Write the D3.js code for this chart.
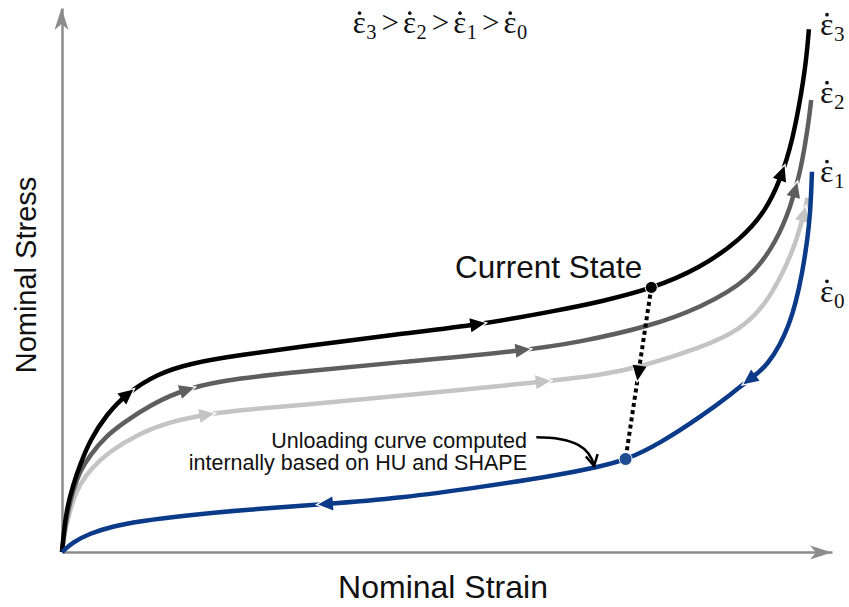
<!DOCTYPE html>
<html><head><meta charset="utf-8">
<script src="https://cdn.jsdelivr.net/npm/d3@7"></script>
<style>body{margin:0;background:#fff}svg{display:block}</style>
</head><body><svg id="c" width="849" height="607"></svg>
<script>
// ---- data (strain, stress) in arbitrary units 0..100 ----
const rate3 = [[0,0],[0.26,4.0],[0.65,8.1],[1.43,12.3],[2.34,16.0],[3.64,20.6],[5.84,25.4],[8.44,29.2],[12.3,32.7],[16.6,34.7],[23.1,36.2],[30.9,37.7],[43.9,40.1],[54.0,41.7],[64.7,44.5],[69.9,46.0],[76.6,48.4],[82.9,52.2],[88.1,57.4],[91.3,62.5],[93.3,68.4],[94.9,75.7],[96.1,84.9],[96.7,91.0],[97.0,96.1]];
const rate2 = [[0,0],[0.26,3.3],[0.65,6.8],[1.43,11.4],[2.34,14.9],[3.64,17.8],[5.58,21.1],[7.92,23.7],[11.4,27.0],[16.2,30.2],[23.1,32.0],[30.9,33.1],[43.9,34.9],[59.9,37.0],[67.3,38.6],[76.4,41.5],[82.9,44.9],[89.4,50.0],[92.9,57.4],[94.6,63.4],[95.8,69.3],[96.6,75.7],[97.0,79.5],[97.3,83.1]];
const rate1 = [[0,0],[0.26,2.8],[0.65,5.5],[1.43,9.6],[2.34,12.5],[3.64,15.1],[5.84,18.2],[10.1,21.9],[14.0,23.9],[18.3,25.2],[23.1,26.1],[30.9,27.0],[43.9,28.7],[62.5,31.3],[69.9,32.5],[75.1,34.0],[82.9,37.5],[88.1,40.8],[91.3,45.4],[93.5,50.9],[95.2,56.4],[96.2,61.4],[96.6,63.5],[96.8,65.1]];
const unload0 = [[97.4,69.9],[97.3,66.0],[97.1,60.5],[96.2,51.3],[94.6,41.4],[91.6,34.0],[89.1,31.6],[87.1,29.2],[82.9,24.8],[77.7,20.0],[73.3,16.9],[69.5,15.6],[64.7,14.2],[54.7,12.0],[43.9,9.9],[34.2,8.8],[23.1,7.7],[16.6,6.8],[10.1,5.7],[6.5,4.7],[3.6,3.4],[1.4,1.8],[0,0]];
const arrows3 = [[8.4,29.2],[54.0,41.7],[93.4,69.7]];
const arrows2 = [[16.2,30.1],[59.9,37.0],[95.5,66.5]];
const arrows1 = [[18.8,25.2],[62.5,31.3],[96.4,62.1]];
const arrows0 = [[89.1,32.0],[34.2,8.6]];
const currentState = [76.6,48.3];
const unloadPoint = [73.25,16.9];
const seriesLabels = ["3","2","1","0"];
const labelStress = [95.0,82.5,68.0,46.0];
const annotationLines = ["Unloading curve computed","internally based on HU and SHAPE"];

const colors = {r3:"#000000", r2:"#5e5e5e", r1:"#c4c4c4", r0:"#0b3a88", axis:"#8c8c8c"};

const svg = d3.select("#c");
const x = d3.scaleLinear().domain([0,100]).range([62,832]);
const y = d3.scaleLinear().domain([0,100]).range([552,8]);

// axes
const gx = svg.append("g").attr("transform",`translate(0,${y(0)})`)
  .call(d3.axisBottom(x).tickValues([]).tickSizeOuter(0));
const gy = svg.append("g").attr("transform",`translate(${x(0)},0)`)
  .call(d3.axisLeft(y).tickValues([]).tickSizeOuter(0));
[gx,gy].forEach(g=>g.select(".domain").attr("stroke",colors.axis).attr("stroke-width",2.5));

function axisHead(tx,ty,dx,dy){
  const px=-dy, py=dx, L=22, H=7, N=16;
  const pts=[[tx,ty],[tx-dx*L+px*H,ty-dy*L+py*H],[tx-dx*N,ty-dy*N],[tx-dx*L-px*H,ty-dy*L-py*H]];
  svg.append("path").attr("d","M"+pts.map(p=>p.join(",")).join("L")+"Z").attr("fill",colors.axis);
}
axisHead(x(100),y(0)+0.5,1,0);
axisHead(x(0)-0.5,y(100),0,-1);

const line = d3.line().x(d=>x(d[0])).y(d=>y(d[1])).curve(d3.curveBasis);

function tri(g,cx,cy,dx,dy,color,len,half){
  const tx=cx+dx*len/2, ty=cy+dy*len/2;
  const bx=cx-dx*len/2, by=cy-dy*len/2;
  const px=-dy, py=dx;
  const s=3;
  g.append("path").attr("d",`M${tx+dx*s},${ty+dy*s}L${bx+dx*s+px*half},${by+dy*s+py*half}L${bx+dx*s-px*half},${by+dy*s-py*half}Z`).attr("fill","#fff");
  g.append("path").attr("d",`M${tx},${ty}L${bx+px*half},${by+py*half}L${bx-px*half},${by-py*half}Z`).attr("fill",color);
}

function drawSeries(data,arrows,color){
  const g=svg.append("g");
  const p=g.append("path").attr("d",line(data)).attr("fill","none").attr("stroke",color).attr("stroke-width",4.5);
  const node=p.node(), total=node.getTotalLength();
  arrows.forEach(a=>{
    const ax=x(a[0]), ay=y(a[1]);
    let best=0,bd=1e9;
    for(let t=0;t<=total;t+=0.5){const q=node.getPointAtLength(t);const d=(q.x-ax)**2+(q.y-ay)**2;if(d<bd){bd=d;best=t;}}
    const q0=node.getPointAtLength(Math.max(0,best-3)), q1=node.getPointAtLength(Math.min(total,best+3));
    const q=node.getPointAtLength(best);
    let dx=q1.x-q0.x, dy=q1.y-q0.y; const n=Math.hypot(dx,dy); dx/=n; dy/=n;
    tri(g,q.x,q.y,dx,dy,color,15,7);
  });
  return node;
}
drawSeries(rate1,arrows1,colors.r1);
drawSeries(rate2,arrows2,colors.r2);
const blackNode = drawSeries(rate3,arrows3,colors.r3);
const blueNode = drawSeries(unload0,arrows0,colors.r0);

function nearest(node,px,py){
  const total=node.getTotalLength(); let best=null,bd=1e9;
  for(let t=0;t<=total;t+=0.5){const q=node.getPointAtLength(t);const d=(q.x-px)**2+(q.y-py)**2;if(d<bd){bd=d;best=q;}}
  return best;
}
// dotted unloading path (endpoints snapped onto the curves)
const pA=nearest(blackNode,x(currentState[0]),y(currentState[1]));
const pB=nearest(blueNode,x(unloadPoint[0]),y(unloadPoint[1]));
const x1=pA.x, y1=pA.y, x2=pB.x, y2=pB.y;
svg.append("line").attr("x1",x1).attr("y1",y1).attr("x2",x2).attr("y2",y2)
  .attr("stroke","#000").attr("stroke-width",4).attr("stroke-dasharray","4,3.3");
{
  let dx=x2-x1, dy=y2-y1; const n=Math.hypot(dx,dy); dx/=n; dy/=n;
  tri(svg,(x1+x2)/2,(y1+y2)/2,dx,dy,"#000",15,7);
}
svg.append("circle").attr("cx",x1).attr("cy",y1).attr("r",6).attr("fill","#000").attr("stroke","#fff").attr("stroke-width",1);
svg.append("circle").attr("cx",x2).attr("cy",y2).attr("r",6.5).attr("fill","#1f4c92").attr("stroke","#fff").attr("stroke-width",1);

// annotation arrow
const annPts=[[61.6,21.1],[66.6,21.1],[68.6,19.1],[69.1,15.8]];
svg.append("path").attr("d",`M${x(annPts[0][0])},${y(annPts[0][1])}C${x(annPts[1][0])},${y(annPts[1][1])} ${x(annPts[2][0])},${y(annPts[2][1])} ${x(annPts[3][0])},${y(annPts[3][1])}`)
  .attr("fill","none").attr("stroke","#000").attr("stroke-width",2.5);
{
  const tx=x(annPts[3][0]), ty=y(annPts[3][1]);
  let dx=tx-x(annPts[2][0]), dy=ty-y(annPts[2][1]); const n=Math.hypot(dx,dy); dx/=n; dy/=n;
  const px=-dy, py=dx, L=11, H=6;
  svg.append("path").attr("d",`M${tx-dx*L+px*H},${ty-dy*L+py*H}L${tx},${ty}L${tx-dx*L-px*H},${ty-dy*L-py*H}`)
    .attr("fill","none").attr("stroke","#000").attr("stroke-width",2.5).attr("stroke-linejoin","miter");
}

const sans='"Liberation Sans", Arial, Helvetica, sans-serif';
const serif='"Liberation Serif", "Times New Roman", serif';
const ann=svg.append("text").attr("font-family",sans).attr("font-size",21.5).attr("text-anchor","end").attr("fill","#111");
annotationLines.forEach((t,i)=>ann.append("tspan").attr("x",527).attr("y",448+i*22).text(t));

svg.append("text").attr("x",455).attr("y",278).attr("font-family",sans).attr("font-size",31.5).attr("fill","#111").text("Current State");
svg.append("text").attr("x",443).attr("y",598).attr("text-anchor","middle").attr("font-family",sans).attr("font-size",32).attr("fill","#111").text("Nominal Strain");
svg.append("text").attr("transform","translate(36,275) rotate(-90)").attr("text-anchor","middle").attr("font-family",sans).attr("font-size",29).attr("fill","#111").text("Nominal Stress");

// epsilon-dot with subscript; returns width
function epsLabel(g,x0,yb,fs,sub){
  const t=g.append("text").attr("x",x0).attr("y",yb).attr("font-family",serif).attr("font-size",fs).attr("fill","#111").text("ε");
  const w=t.node().getComputedTextLength();
  g.append("circle").attr("cx",x0+w*0.52).attr("cy",yb-fs*0.64).attr("r",fs*0.058).attr("fill","#111");
  const s=g.append("text").attr("x",x0+w+0.5).attr("y",yb+6).attr("font-family",serif).attr("font-size",fs*0.66).attr("fill","#111").text(sub);
  return w+0.5+s.node().getComputedTextLength();
}
seriesLabels.forEach((s,i)=>{ epsLabel(svg,820,y(labelStress[i]),32,s); });

// title
{
  const g=svg.append("g");
  let cx=0; const fs=31, yb=33;
  seriesLabels.forEach((s,i)=>{
    if(i){
      const t=g.append("text").attr("x",cx+5).attr("y",yb).attr("font-family",serif).attr("font-size",fs).attr("fill","#111").text(">");
      cx+=5+t.node().getComputedTextLength()+4;
    }
    cx+=epsLabel(g,cx,yb,fs,s);
  });
  g.attr("transform",`translate(${440-cx/2},0)`);
}
</script></body></html>
